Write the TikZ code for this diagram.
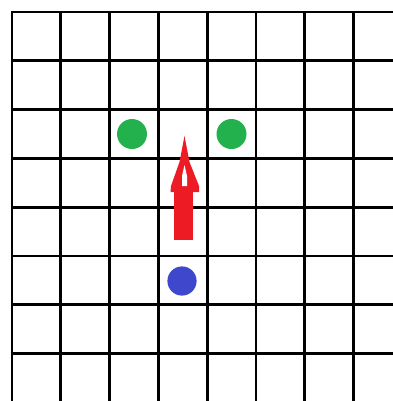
\documentclass[tikz,border=0pt]{standalone}
\usepackage{tikz}
\definecolor{paintgreen}{RGB}{34,177,76}
\definecolor{paintblue}{RGB}{63,72,204}
\definecolor{paintred}{RGB}{237,28,36}

\begin{document}
\begin{tikzpicture}[x=.25mm,y=-.25mm,
  every node/.style={circle,inner sep=0pt,minimum size=7.5mm},
  gridline/.style={line width=.7mm,line cap=rect}]
  \useasboundingbox (0,0) rectangle (393,401);
  \fill[white] (0,0) rectangle (393,401);
  \foreach \i in {0,...,7} {
    \draw[gridline] (12+48.8*\i,12) -- (12+48.8*\i,401);
    \draw[gridline] (12,12+48.8*\i) -- (393,12+48.8*\i);
  }
  \node[fill=paintgreen] (g1) at (132,134) {};
  \node[fill=paintgreen] (g2) at (231.5,134) {};
  \node[fill=paintblue,minimum size=7.3mm] (b1) at (182,281) {};

  \coordinate (tail) at (183.5,240);
  \coordinate (base) at (183.5,190);
  \coordinate (tip) at (184.5,136);
  \draw[paintred,line width=4.75mm] (tail) -- (base);
  \fill[paintred] (170.5,192) -- (171,186) -- (179.5,162) -- (tip)
    -- (189.5,162) -- (199,186) -- (199,192) -- cycle;
  \fill[white] (184.5,165) -- (187,176) -- (187,186) -- (182,186)
    -- (182,176) -- cycle;
\end{tikzpicture}
\end{document}
